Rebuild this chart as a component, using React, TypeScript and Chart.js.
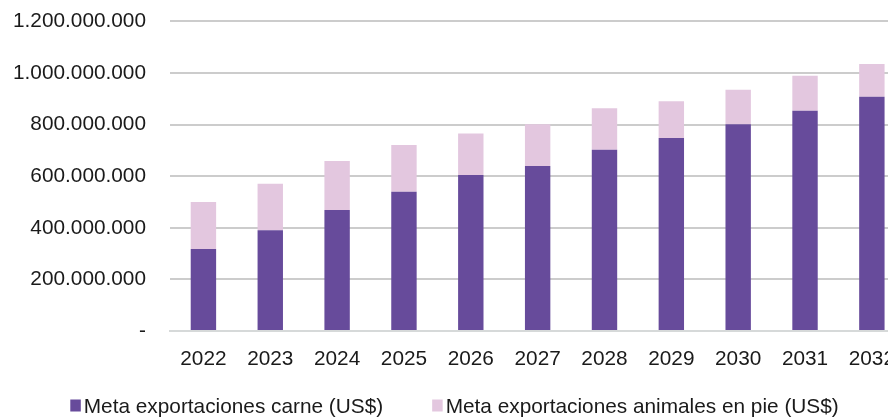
import React, { useEffect, useRef } from "react";
import { Chart, registerables } from "chart.js";

Chart.register(...registerables);

const years = ["2022", "2023", "2024", "2025", "2026", "2027", "2028", "2029", "2030", "2031", "2032"];
const carne = [318, 391, 469, 540, 605, 640, 703, 748, 802, 854, 908].map((v) => v * 1e6);
const animalesEnPie = [182, 180, 190, 181, 161, 162, 161, 143, 133, 136, 127].map((v) => v * 1e6);
const seriesNames = ["Meta exportaciones carne (US$)", "Meta exportaciones animales en pie (US$)"];
const seriesColors = ["#674B9B", "#E3C7DF"];

const FONT = "'Liberation Sans', Arial, sans-serif";
const FONT_SIZE = 20.8;
const TEXT_COLOR = "#1a1a1a";

const fmt = (v: number) => (v === 0 ? "-" : Math.round(v).toString().replace(/\B(?=(\d{3})+(?!\d))/g, "."));

const legendPlugin = {
  id: "customLegend",
  afterDraw(chart: any) {
    const ctx = chart.ctx;
    const datasets = chart.data.datasets;
    ctx.save();
    ctx.font = `${FONT_SIZE}px ${FONT}`;
    ctx.textBaseline = "middle";
    ctx.textAlign = "left";
    const boxW = 10.5;
    const boxH = 12;
    const gapText = 3;
    const gapItem = 49;
    const widths = datasets.map((d: any) => ctx.measureText(d.label).width);
    const total = widths.reduce((a: number, w: number) => a + boxW + gapText + w, 0) + gapItem * (datasets.length - 1);
    let x = chart.width / 2 - total / 2 - 1;
    const cy = chart.height - 29;
    datasets.forEach((d: any, i: number) => {
      ctx.fillStyle = d.backgroundColor;
      ctx.fillRect(x, cy - boxH / 2 - 0.5, boxW, boxH);
      x += boxW + gapText;
      ctx.fillStyle = TEXT_COLOR;
      ctx.fillText(d.label, x, cy + 1);
      x += widths[i] + gapItem;
    });
    ctx.restore();
  },
};

export default function App() {
  const ref = useRef<HTMLCanvasElement | null>(null);
  useEffect(() => {
    if (!ref.current) return;
    const chart = new Chart(ref.current, {
      type: "bar",
      data: {
        labels: years,
        datasets: [
          {
            label: seriesNames[0],
            data: carne,
            backgroundColor: seriesColors[0],
            categoryPercentage: 1,
            barPercentage: 0.38,
          },
          {
            label: seriesNames[1],
            data: animalesEnPie,
            backgroundColor: seriesColors[1],
            categoryPercentage: 1,
            barPercentage: 0.38,
          },
        ],
      },
      options: {
        responsive: false,
        animation: false,
        layout: { padding: { top: 0, right: 0, bottom: 47, left: 0 } },
        scales: {
          x: {
            stacked: true,
            grid: { display: false, drawTicks: false },
            border: { display: true, color: "#D6D9D9", width: 2 },
            ticks: { color: TEXT_COLOR, font: { family: FONT, size: FONT_SIZE }, padding: 16, maxRotation: 0, autoSkip: false },
          },
          y: {
            stacked: true,
            min: 0,
            max: 1200000000,
            afterFit: (s: any) => {
              s.width = 170;
            },
            grid: { color: "#CCCCCC", lineWidth: 2, drawTicks: false },
            border: { display: false },
            ticks: {
              stepSize: 200000000,
              color: TEXT_COLOR,
              font: { family: FONT, size: FONT_SIZE },
              padding: 24,
              callback: (v: any) => fmt(Number(v)),
            },
          },
        },
        plugins: {
          legend: { display: false },
          tooltip: { enabled: false },
        },
      },
      plugins: [legendPlugin],
    });
    return () => chart.destroy();
  }, []);
  return (
    <div style={{ position: "absolute", left: 0, top: 0, width: 888, height: 417, overflow: "hidden", background: "#fff" }}>
      <canvas ref={ref} width={911} height={450} style={{ display: "block", position: "absolute", left: 0, top: -15 }} />
    </div>
  );
}
